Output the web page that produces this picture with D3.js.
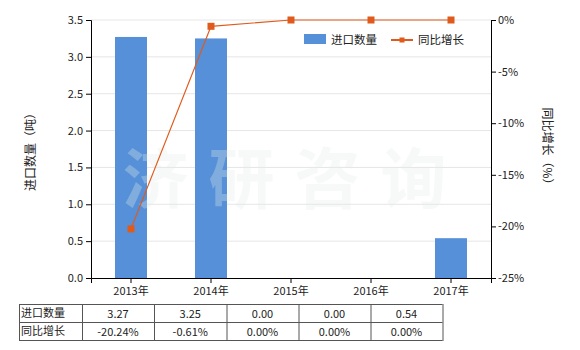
<html>
<head>
<meta charset="utf-8">
<script src="https://d3js.org/d3.v7.min.js"></script>
<style>
 body { margin:0; background:#fff; }
 text { font-family: "Noto Sans CJK SC", "DejaVu Sans", sans-serif; font-size: 11px; fill:#222; }
</style>
</head>
<body>
<svg width=580 height=350></svg>
<script>
  // chart data
  var years = ["2013年", "2014年", "2015年", "2016年", "2017年"];
  var qty = [3.27, 3.25, 0.00, 0.00, 0.54];
  var growth = [-20.24, -0.61, 0.00, 0.00, 0.00];
  var leftTicks = [0, 0.5, 1.0, 1.5, 2.0, 2.5, 3.0, 3.5];
  var rightTicks = [0, -5, -10, -15, -20, -25];
  var rowNames = ["进口数量", "同比增长"];

  var svg = d3.select("svg");
  var blue = "#5590d8", orange = "#e05a1c";

  var x = d3.scaleBand().domain(years).range([91, 491]);
  var yL = d3.scaleLinear().domain([0, 3.5]).range([278, 20]);
  var yR = d3.scaleLinear().domain([-25, 0]).range([278, 20]);

  // gridlines
  svg.append("g").selectAll("line")
    .data(leftTicks.slice(1))
    .enter().append("line")
    .attr("x1", 91).attr("x2", 491)
    .attr("y1", function(d) { return yL(d); })
    .attr("y2", function(d) { return yL(d); })
    .attr("stroke", "#e6e6e6");

  // bars
  svg.append("g").selectAll("rect")
    .data(qty)
    .enter().append("rect")
    .attr("x", function(d, i) { return x(years[i]) + x.bandwidth() * 0.3; })
    .attr("width", x.bandwidth() * 0.4)
    .attr("y", function(d) { return yL(d); })
    .attr("height", function(d) { return yL(0) - yL(d); })
    .attr("fill", blue);

  // watermark
  svg.append("text")
    .attr("x", 294.5).attr("y", 203)
    .attr("text-anchor", "middle")
    .style("font-size", "66px").style("font-weight", "bold")
    .style("letter-spacing", "20px")
    .style("fill", "#e6ecec").style("opacity", 0.3)
    .text("济研咨询");

  // axes
  var ax = svg.append("g").attr("transform", "translate(0,278)")
    .call(d3.axisBottom(x).tickSize(5).tickPadding(4));
  var al = svg.append("g").attr("transform", "translate(91,0)")
    .call(d3.axisLeft(yL).tickValues(leftTicks).tickFormat(d3.format(".1f")).tickSize(5).tickPadding(3));
  var ar = svg.append("g").attr("transform", "translate(491,0)")
    .call(d3.axisRight(yR).tickValues(rightTicks).tickFormat(function(d) { return d + "%"; }).tickSize(5).tickPadding(2));
  [ax, al, ar].forEach(function(g) {
    g.select(".domain").attr("stroke", "#000");
    g.selectAll(".tick line").attr("stroke", "#000");
    g.selectAll("text").style("font-family", "'Noto Sans CJK SC', sans-serif").style("font-size", "11px").attr("fill", "#222");
  });

  // line
  var line = d3.line()
    .x(function(d, i) { return x(years[i]) + x.bandwidth() / 2; })
    .y(function(d) { return yR(d); });
  svg.append("path").datum(growth)
    .attr("d", line).attr("fill", "none")
    .attr("stroke", orange).attr("stroke-width", 1.2);
  svg.append("g").selectAll("rect")
    .data(growth)
    .enter().append("rect")
    .attr("x", function(d, i) { return x(years[i]) + x.bandwidth() / 2 - 3.5; })
    .attr("y", function(d) { return yR(d) - 3.5; })
    .attr("width", 7).attr("height", 7)
    .attr("fill", orange);

  // axis titles
  svg.append("text")
    .attr("transform", "translate(35,149) rotate(-90)")
    .attr("text-anchor", "middle")
    .style("font-size", "12px")
    .text("进口数量（吨）");
  svg.append("text")
    .attr("transform", "translate(543,149) rotate(90)")
    .attr("text-anchor", "middle")
    .style("font-size", "12px")
    .text("同比增长（%）");

  // legend
  svg.append("rect").attr("x", 304).attr("y", 34).attr("width", 22).attr("height", 10).attr("fill", blue);
  svg.append("text").attr("x", 331).attr("y", 43.5).style("font-size", "11.5px").text(rowNames[0]);
  svg.append("line").attr("x1", 391).attr("x2", 413).attr("y1", 40).attr("y2", 40).attr("stroke", orange).attr("stroke-width", 2);
  svg.append("rect").attr("x", 399.5).attr("y", 37.5).attr("width", 5).attr("height", 5).attr("fill", orange);
  svg.append("text").attr("x", 418).attr("y", 43.5).style("font-size", "11.5px").text(rowNames[1]);

  // data table
  var colX = [19, 82, 154, 226.5, 298.5, 370.5, 442.5];
  var rowY = [304, 322, 340];
  var tbl = svg.append("g");
  tbl.selectAll("line.h").data(rowY).enter().append("line")
    .attr("x1", colX[0]).attr("x2", colX[6])
    .attr("y1", function(d) { return d + 0.5; }).attr("y2", function(d) { return d + 0.5; })
    .attr("stroke", "#555");
  tbl.selectAll("line.v").data(colX).enter().append("line")
    .attr("x1", function(d) { return d + 0.5; }).attr("x2", function(d) { return d + 0.5; })
    .attr("y1", rowY[0]).attr("y2", rowY[2] + 1)
    .attr("stroke", "#555");
  var rows = [
    qty.map(function(d) { return d.toFixed(2); }),
    growth.map(function(d) { return d.toFixed(2) + "%"; })
  ];
  rows.forEach(function(r, ri) {
    tbl.append("text").attr("x", 21).attr("y", rowY[ri] + 13).text(rowNames[ri]);
    tbl.selectAll("text.c" + ri).data(r).enter().append("text")
      .attr("x", function(d, i) { return (colX[i + 1] + colX[i + 2]) / 2; })
      .attr("y", rowY[ri] + 14)
      .attr("text-anchor", "middle")
      .text(function(d) { return d; });
  });
</script>
</body>
</html>
